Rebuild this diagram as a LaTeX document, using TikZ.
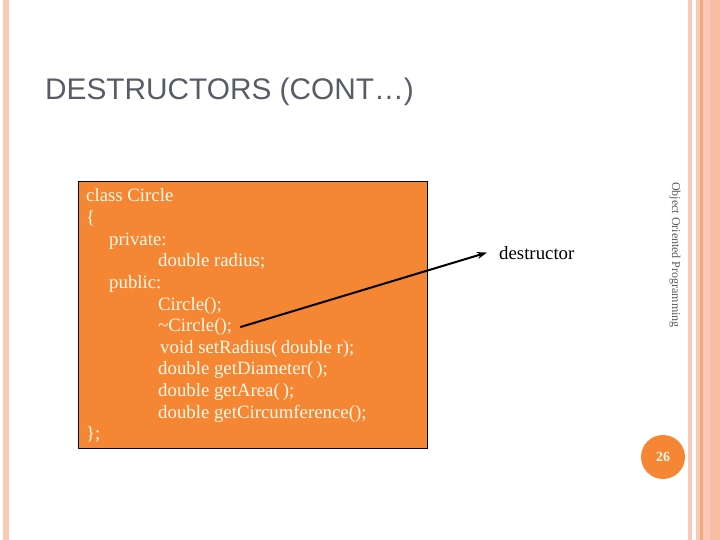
\documentclass[tikz,border=0pt]{standalone}
\usepackage{fontspec}
\usetikzlibrary{arrows.meta}
\setmainfont{Liberation Serif}
\newfontfamily\titlefont{Liberation Sans}
\definecolor{slideorange}{RGB}{245,134,52}
\definecolor{stripe}{RGB}{250,200,182}
\definecolor{stripedark}{RGB}{244,168,128}
\definecolor{titlegray}{RGB}{88,92,102}
\definecolor{codecream}{RGB}{255,250,232}
\begin{document}
\begin{tikzpicture}[x=1pt, y=-1pt, >={Stealth[length=10pt,width=7pt]}, line join=round,
 codeline/.style={anchor=base west, inner sep=0pt, text=codecream, font=\fontsize{18.8}{21.6}\selectfont}]
\useasboundingbox (0,0) rectangle (720,540);
% Các dải màu hai bên
\fill[stripe] (3,0) rectangle (9,540);
\fill[stripe] (688,0) rectangle (692,540);
\fill[stripe] (696,0) rectangle (720,540);
\fill[stripe!85!slideorange] (710,0) rectangle (720,540);
\fill[stripedark] (700,0) rectangle (703,540);
% Tiêu đề
\node[anchor=base west, inner sep=0pt, text=titlegray, font=\titlefont\fontsize{29.8}{34}\selectfont] (title) at (45,100) {DESTRUCTORS (CONT…)};
% Khung mã lớp
\draw[fill=slideorange, thin] (78,181) rectangle (427,448);
\foreach \n/\x/\t [count=\i from 0] in {cls/86/class Circle, lbr/86/\{, priv/109/private:,
 rad/158/double radius;, pub/109/public:, ctor/158/Circle();, dtor/158/\textasciitilde Circle();,
 setr/160/void setRadius(\,double r);, diam/158/double getDiameter(\,);, area/158/double getArea(\,);,
 circ/158/double getCircumference();, rbr/86/\};}
\node[codeline] (\n) at (\x,{202+21.6*\i}) {\t};
% Mũi tên chỉ hàm hủy
\node[anchor=base west, inner sep=0pt, font=\fontsize{18.8}{21.6}\selectfont] (dlabel) at (499,259) {destructor};
\draw[->, line width=2pt] ([xshift=8pt]dtor.east) -- ([xshift=-12pt]dlabel.west);
% Chân trang, số trang
\node[rotate=-90, text=black!65, font=\fontsize{12}{14}\selectfont] (footer) at (675,255) {Object Oriented Programming};
\node[circle, fill=slideorange, minimum size=44pt, inner sep=0pt, text=codecream, font=\bfseries\fontsize{14}{16}\selectfont] (page) at (663,457) {26};
\end{tikzpicture}
\end{document}
